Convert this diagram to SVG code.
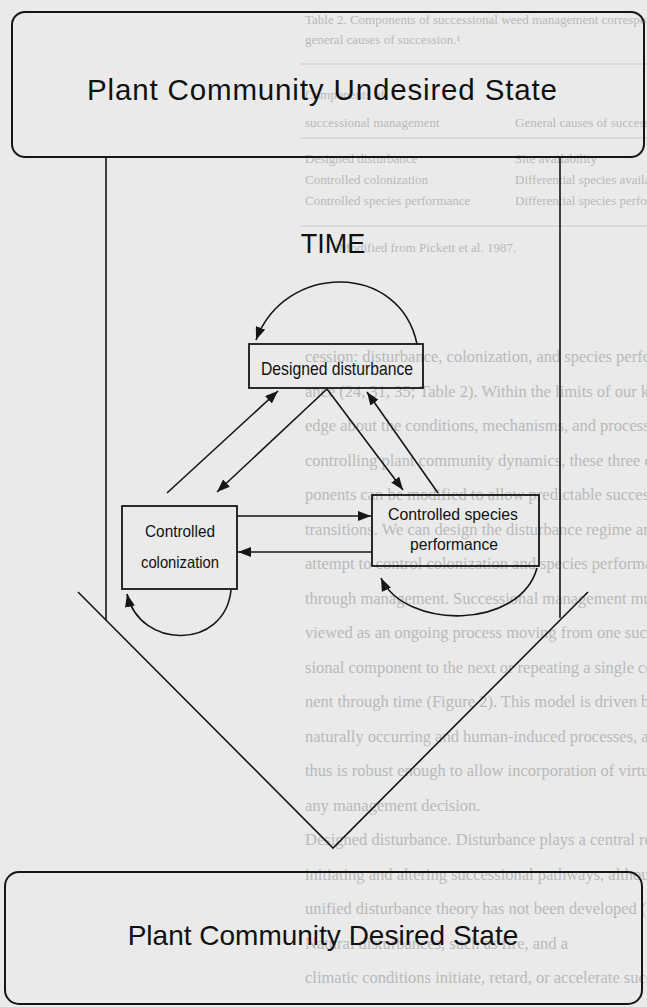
<svg xmlns="http://www.w3.org/2000/svg" width="647" height="1007" viewBox="0 0 647 1007">
<style>
.bg{font-family:"Liberation Serif","Times New Roman",serif;fill:#b9b9b9}
.body{font-size:16.5px}
.tbl{font-size:13px}
.rule{stroke:#c9c9c9;stroke-width:1.2}
.frame{fill:none;stroke:#161616;stroke-width:2}
.box{fill:none;stroke:#161616;stroke-width:1.8}
.title{font-family:"Liberation Sans",Arial,Helvetica,sans-serif;fill:#111}
.lbl{font-family:"Liberation Sans",Arial,Helvetica,sans-serif;fill:#111;text-anchor:middle}
.con{fill:none;stroke:#161616;stroke-width:1.6}
</style>
<defs>
<marker id="ah" viewBox="0 0 13 10" refX="13" refY="5" markerWidth="13" markerHeight="10" markerUnits="userSpaceOnUse" orient="auto">
<path d="M0,0 L13,5 L0,10 z" fill="#161616"/>
</marker>
</defs>
<rect width="647" height="1007" fill="#eaeaea"/>
<g id="background-text">
<text class="bg tbl" x="305" y="24">Table 2. Components of successional weed management corresponding to</text>
<text class="bg tbl" x="305" y="44">general causes of succession.¹</text>
<line class="rule" x1="300" y1="64" x2="647" y2="64"/>
<text class="bg tbl" x="305" y="99">Components of</text>
<text class="bg tbl" x="305" y="127">successional management</text>
<text class="bg tbl" x="515" y="127">General causes of succession</text>
<line class="rule" x1="300" y1="138" x2="647" y2="138"/>
<text class="bg tbl" x="305" y="163">Designed disturbance</text>
<text class="bg tbl" x="515" y="163">Site availability</text>
<text class="bg tbl" x="305" y="184">Controlled colonization</text>
<text class="bg tbl" x="515" y="184">Differential species availability</text>
<text class="bg tbl" x="305" y="205">Controlled species performance</text>
<text class="bg tbl" x="515" y="205">Differential species performance</text>
<line class="rule" x1="300" y1="226" x2="647" y2="226"/>
<text class="bg tbl" x="335" y="252">¹Modified from Pickett et al. 1987.</text>
<text class="bg body" x="305" y="362">cession: disturbance, colonization, and species perfor-</text>
<text class="bg body" x="305" y="396.5">ance (24, 31, 35; Table 2). Within the limits of our know-</text>
<text class="bg body" x="305" y="431">edge about the conditions, mechanisms, and processes</text>
<text class="bg body" x="305" y="465.5">controlling plant community dynamics, these three com-</text>
<text class="bg body" x="305" y="500">ponents can be modified to allow predictable successional</text>
<text class="bg body" x="305" y="534.5">transitions. We can design the disturbance regime and</text>
<text class="bg body" x="305" y="569">attempt to control colonization and species performance</text>
<text class="bg body" x="305" y="603.5">through management. Successional management must be</text>
<text class="bg body" x="305" y="638">viewed as an ongoing process moving from one succes-</text>
<text class="bg body" x="305" y="672.5">sional component to the next or repeating a single compo-</text>
<text class="bg body" x="305" y="707">nent through time (Figure 2). This model is driven by both</text>
<text class="bg body" x="305" y="741.5">naturally occurring and human-induced processes, and</text>
<text class="bg body" x="305" y="776">thus is robust enough to allow incorporation of virtually</text>
<text class="bg body" x="305" y="810.5">any management decision.</text>
<text class="bg body" x="305" y="845">Designed disturbance. Disturbance plays a central role in</text>
<text class="bg body" x="305" y="879.5">initiating and altering successional pathways, although a</text>
<text class="bg body" x="305" y="914">unified disturbance theory has not been developed (25).</text>
<text class="bg body" x="305" y="948.5">Natural disturbances, such as fire, and a</text>
<text class="bg body" x="305" y="983">climatic conditions initiate, retard, or accelerate suc-</text>
</g>
<g id="undesired-state">
<rect class="frame" x="12" y="12" width="632" height="145" rx="13"/>
<text class="title" x="322" y="100" font-size="29.5" text-anchor="middle" textLength="470" lengthAdjust="spacing">Plant Community Undesired State</text>
</g>
<g id="time-label">
<text class="title" x="333" y="253" font-size="27" text-anchor="middle">TIME</text>
</g>
<g id="time-frame">
<path class="con" d="M106,157 V620 M560,157 V618 M78,592 L333,848 L588,592"/>
</g>
<g id="designed-disturbance">
<rect class="box" x="249" y="344" width="174" height="44"/>
<text class="lbl" x="337" y="375" font-size="18.5" textLength="152" lengthAdjust="spacingAndGlyphs">Designed disturbance</text>
</g>
<g id="controlled-colonization">
<rect class="box" x="122" y="506" width="115" height="83"/>
<text class="lbl" x="180" y="537" font-size="16.5" textLength="70" lengthAdjust="spacingAndGlyphs">Controlled</text>
<text class="lbl" x="180" y="568" font-size="16.5" textLength="78" lengthAdjust="spacingAndGlyphs">colonization</text>
</g>
<g id="controlled-species-performance">
<rect class="box" x="372" y="495" width="167" height="71"/>
<text class="lbl" x="453" y="520" font-size="16.5" textLength="130" lengthAdjust="spacingAndGlyphs">Controlled species</text>
<text class="lbl" x="454" y="550" font-size="16.5" textLength="88" lengthAdjust="spacingAndGlyphs">performance</text>
</g>
<g id="connectors">
<path class="con" marker-end="url(#ah)" d="M417,344 C400,262 285,262 256,340"/>
<path class="con" marker-end="url(#ah)" d="M167,493 L278,391"/>
<path class="con" marker-end="url(#ah)" d="M327,389 L217,492"/>
<path class="con" marker-end="url(#ah)" d="M327,389 L403,490"/>
<path class="con" marker-end="url(#ah)" d="M438,493 L367,392"/>
<path class="con" marker-end="url(#ah)" d="M237,516 L371,516"/>
<path class="con" marker-end="url(#ah)" d="M372,552 L238,552"/>
<path class="con" marker-end="url(#ah)" d="M231,590 C225,650 140,650 127,594"/>
<path class="con" marker-end="url(#ah)" d="M537,568 C520,630 405,630 381,578"/>
</g>
<g id="desired-state">
<rect class="frame" x="5" y="872" width="637" height="132" rx="14"/>
<text class="title" x="323" y="945" font-size="28" text-anchor="middle">Plant Community Desired State</text>
</g>
</svg>
